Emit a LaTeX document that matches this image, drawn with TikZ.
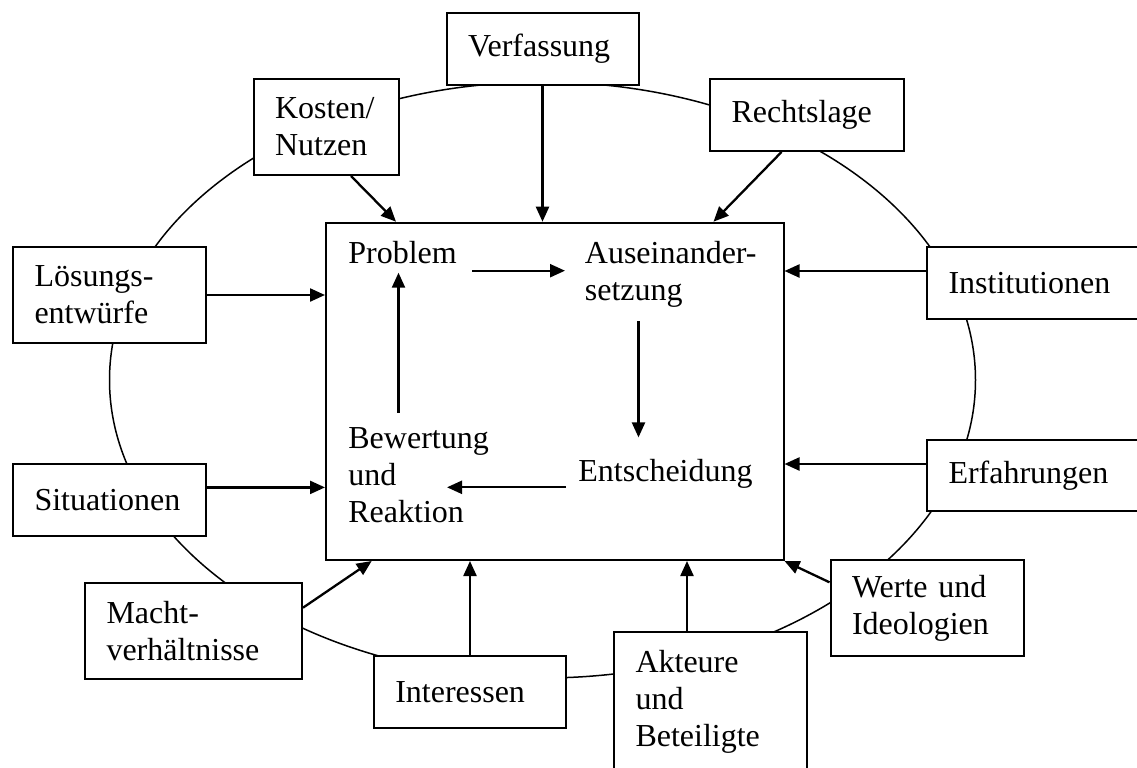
\documentclass[tikz,border=0pt]{standalone}
\usepackage{fontspec}
\setmainfont{Liberation Serif}
\usetikzlibrary{arrows.meta,calc}
\begin{document}
\begin{tikzpicture}[x=0.5pt,y=-0.5pt, font=\fontsize{16}{18.5}\selectfont,
  box/.style={draw, line width=1pt, fill=white, align=left, inner xsep=10.75pt, inner ysep=0pt},
  lbl/.style={inner sep=0pt, anchor=base west},
  arr/.style={line width=1.15pt, -{Triangle[length=7.5pt,width=6.5pt]}},
  ring/.style={line width=0.75pt}]
\useasboundingbox (0,0) rectangle (1137,767);
\clip (0,0) rectangle (1137,767);
\draw[ring] (542.5,380) ellipse [x radius=216.5pt, y radius=149pt];

% outer boxes
\node[box, minimum height=36pt, text width=74.5pt] (verf) at (542.5,48.5) {Verfassung};
\node[box, minimum height=48pt, text width=51pt] (kost) at (326,127) {Kosten/\\Nutzen};
\node[box, minimum height=36pt, text width=75.5pt] (rech) at (807,115) {Rechtslage};
\node[box, minimum height=48pt, text width=75pt] (loes) at (109.5,295) {Lösungs-\\entwürfe};
\node[box, minimum height=36pt, text width=90pt] (inst) at (1038.5,283) {Institutionen};
\node[box, minimum height=36pt, text width=75pt] (situ) at (109.5,500) {Situationen};
\node[box, minimum height=35.5pt, text width=90pt] (erf) at (1038.5,475.5) {Erfahrungen};
\node[box, minimum height=48pt, text width=87pt] (macht) at (193.5,631) {Macht-\\verhältnisse};
\node[box, minimum height=36pt, text width=74.75pt] (inter) at (470,692) {Interessen};
\node[box, minimum height=70pt, text width=75pt] (akt) at (710.5,702) {Akteure\\und\\Beteiligte};
\node[box, minimum height=48pt, text width=75pt] (werte) at (927,608) {Werte und\\Ideologien};

% central box
\node[draw, line width=1pt, fill=white, minimum width=228.75pt, minimum height=168.65pt, inner sep=0pt] (main) at (554.75,391.35) {};

% inner labels
\node[lbl] (prob) at (348,263) {Problem};
\node[lbl] (ausein) at (584.5,263) {\vtop{\hbox{Auseinander-}\hbox{setzung}}};
\node[lbl] (ent) at (578,481.7) {Entscheidung};
\node[lbl] (bew) at (348,448) {\vtop{\hbox{Bewertung}\hbox{und}\hbox{Reaktion}}};

% arrows into the central box
\draw[arr] (verf) -- (verf |- main.north);
\draw[arr] ([xshift=12.5pt]kost.south) -- ([xshift=35.5pt]main.north west);
\draw[arr] ([xshift=-12.75pt]rech.south) -- ([xshift=-35.5pt]main.north east);
\draw[arr] (loes.east) -- (loes.east -| main.west);
\coordinate (i1) at ([yshift=6pt]inst.west);
\draw[arr] (i1) -- (i1 -| main.east);
\coordinate (s1) at ([yshift=6.3pt]situ.east);
\draw[arr] (s1) -- (s1 -| main.west);
\coordinate (e0) at ([yshift=5.75pt]erf.west);
\draw[arr] (e0) -- (e0 -| main.east);
\draw[arr] ([yshift=11.65pt]macht.east) -- ([xshift=23.35pt]main.south west);
\draw[arr] (inter) -- (inter |- main.south);
\coordinate (a1) at ([xshift=-11.75pt]akt.north);
\draw[arr] (a1) -- (a1 |- main.south);
\draw[arr] ([yshift=12.85pt]werte.west) -- (main.south east);

% inner cycle
\coordinate (p1) at ([xshift=7.5pt,yshift=-3.85pt]prob.base east);
\coordinate (p2) at ([xshift=-9.75pt,yshift=-3.85pt]ausein.base west);
\draw[arr] (p1) -- (p2);
\coordinate (d1) at ([xshift=27pt,yshift=-7pt]ausein.south west);
\coordinate (d2) at ([yshift=10.85pt]ent.north);
\draw[arr] (d1) -- (d1 |- d2);
\coordinate (l1) at ([xshift=-6pt,yshift=-2.8pt]ent.base west);
\coordinate (l2) at ([xshift=49.5pt]bew.base west);
\draw[arr] (l1) -- (l1 -| l2);
\coordinate (u1) at ([xshift=25.25pt,yshift=6.9pt]bew.north west);
\coordinate (u2) at ([xshift=25.25pt,yshift=-4.5pt]prob.south west);
\draw[arr] (u1) -- (u2);
\end{tikzpicture}
\end{document}
